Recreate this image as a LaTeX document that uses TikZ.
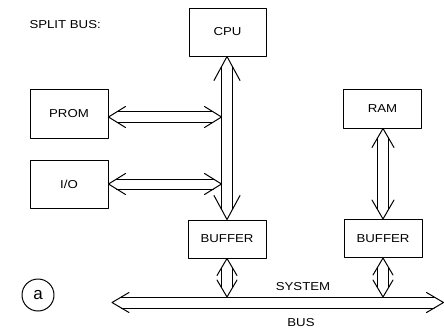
\documentclass[tikz,border=0pt]{standalone}
\usepackage{fontspec}
\setmainfont{Liberation Sans}[FakeStretch=1.15]
\newfontfamily\circfont{Liberation Sans}
\usetikzlibrary{calc}
% vertical double-headed double-line arrow: #1 top tip, #2 bottom tip, #3 half gap, #4 head length, #5 head half width
\newcommand\vdarrow[5]{%
  \draw ($(#1)+(-#5,#4)$) -- (#1) -- ($(#1)+(#5,#4)$);
  \draw ($(#2)+(-#5,-#4)$) -- (#2) -- ($(#2)+(#5,-#4)$);
  \draw ($(#1)+(-#3,{#4*#3/#5})$) -- ($(#2)+(-#3,{-#4*#3/#5})$);
  \draw ($(#1)+(#3,{#4*#3/#5})$) -- ($(#2)+(#3,{-#4*#3/#5})$);
}
% horizontal double-headed double-line arrow: #1 left tip, #2 right tip
\newcommand\hdarrow[5]{%
  \draw ($(#1)+(#4,-#5)$) -- (#1) -- ($(#1)+(#4,#5)$);
  \draw ($(#2)+(-#4,-#5)$) -- (#2) -- ($(#2)+(-#4,#5)$);
  \draw ($(#1)+({#4*#3/#5},-#3)$) -- ($(#2)+({-#4*#3/#5},-#3)$);
  \draw ($(#1)+({#4*#3/#5},#3)$) -- ($(#2)+({-#4*#3/#5},#3)$);
}
\begin{document}
\begin{tikzpicture}[x=1pt,y=-1pt,line width=1pt,line cap=round,line join=round,
  box/.style={draw,inner sep=0pt,font=\fontsize{11.5}{13}\selectfont},
  lbl/.style={inner sep=0pt,font=\fontsize{11.5}{13}\selectfont}]
\useasboundingbox (0,0) rectangle (444,330);

\node[lbl,anchor=west] (title) at (29,24.5) {SPLIT BUS:};

\node[box,minimum width=77pt,minimum height=48pt] (cpu) at (227.5,32) {CPU};
\node[box,minimum width=78pt,minimum height=49pt] (prom) at (69,113.5) {PROM};
\node[box,minimum width=78pt,minimum height=48pt] (io) at (69,184) {I/O};
\node[box,minimum width=78pt,minimum height=38pt] (buf1) at (227,239) {BUFFER};
\node[box,minimum width=78pt,minimum height=39pt] (ram) at (382.5,108.5) {RAM};
\node[box,minimum width=78pt,minimum height=38pt] (buf2) at (383,238.5) {BUFFER};

\node[draw,circle,minimum size=32pt,inner sep=0pt,font=\circfont\fontsize{17}{18}\selectfont] (fig) at (38,295) {a};

\node[lbl] (sys) at (303,287) {SYSTEM};
\node[lbl] (bus) at (301,322.5) {BUS};

% system bus
\coordinate (busL) at (112,302.5);
\coordinate (busR) at (443.5,302.5);
\hdarrow{busL}{busR}{5.5}{17}{10}

% CPU to buffer
\coordinate (cpuB) at (cpu.south -| buf1.north);
\vdarrow{cpuB}{buf1.north}{5.5}{24}{13}

% PROM and I/O to the CPU bus
\coordinate (promL) at ($(prom.east)+(0,3.5)$);
\coordinate (promR) at ($(promL -| buf1.north)+(-5.5,0)$);
\hdarrow{promL}{promR}{5.5}{17}{10.5}
\coordinate (ioR) at ($(io.east -| buf1.north)+(-5.5,0)$);
\hdarrow{io.east}{ioR}{5}{17}{10.5}

% RAM to buffer
\coordinate (ramB) at (ram.south -| buf2.north);
\vdarrow{ramB}{buf2.north}{5.5}{19}{11}

% buffers to system bus
\coordinate (b1bus) at ($(buf1.south |- busL)+(0,-5.5)$);
\vdarrow{buf1.south}{b1bus}{5.5}{17}{10}
\coordinate (b2bus) at ($(buf2.south |- busL)+(0,-5.5)$);
\vdarrow{buf2.south}{b2bus}{5.5}{17}{10}
\end{tikzpicture}
\end{document}
